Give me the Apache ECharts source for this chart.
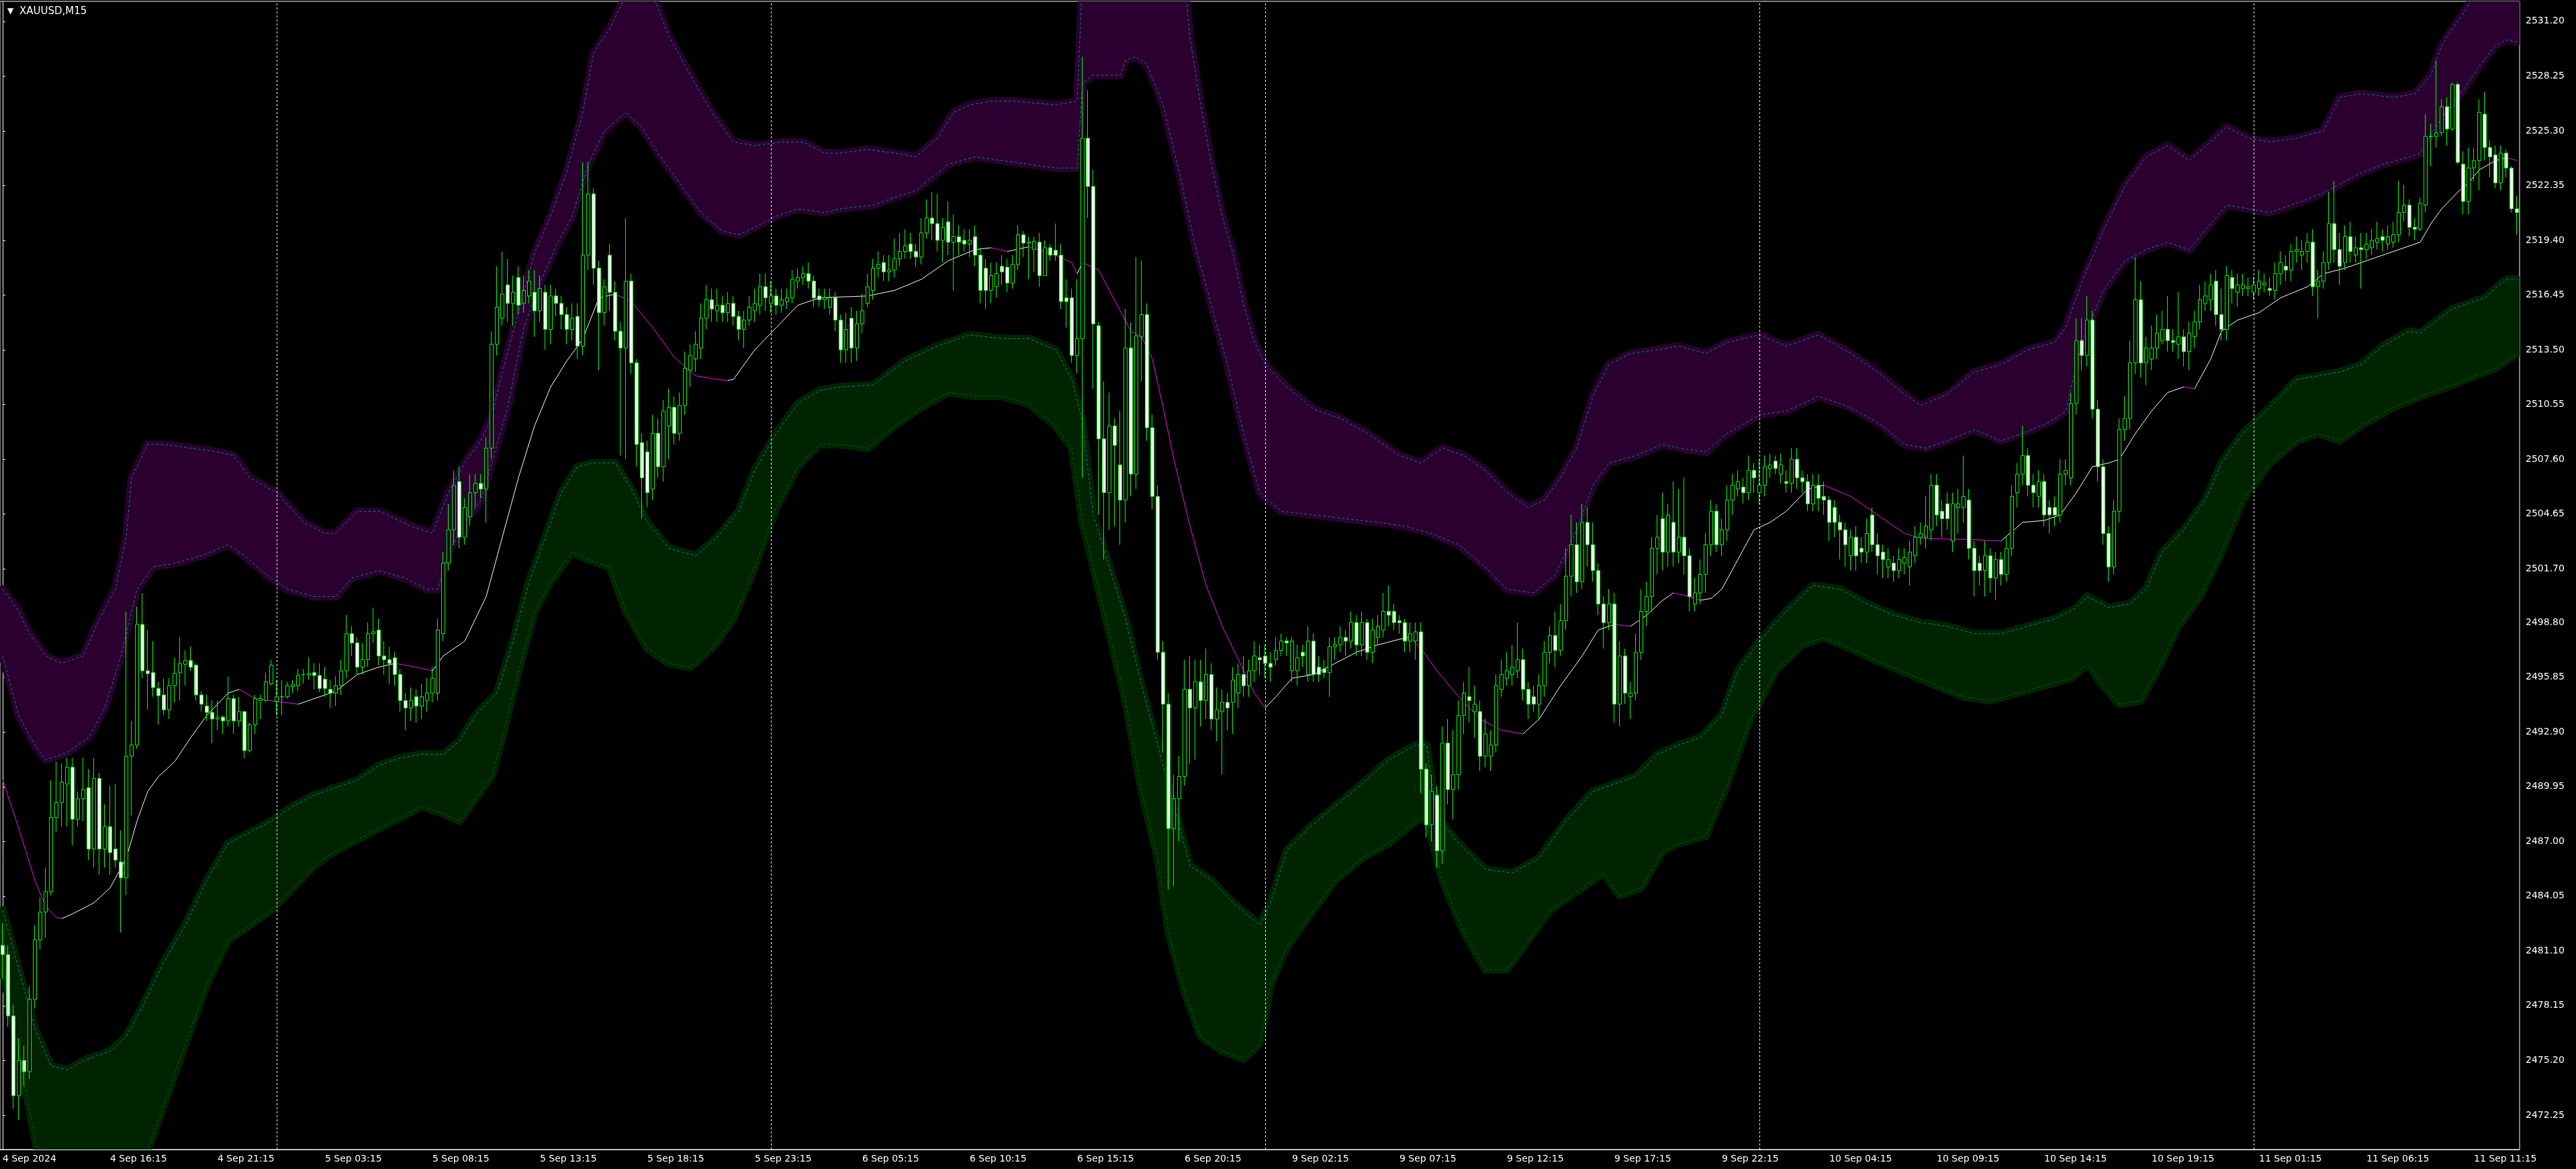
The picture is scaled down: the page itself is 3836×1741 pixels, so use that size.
<!DOCTYPE html>
<html>
<head>
<meta charset="utf-8">
<title>XAUUSD,M15</title>
<script src="https://cdn.jsdelivr.net/npm/echarts@6/dist/echarts.min.js"></script>
<style>
  html, body { margin: 0; padding: 0; background: #000; }
  #chart { width: 3836px; height: 1741px; }
</style>
</head>
<body>
<div id="chart"></div>
<script>
// time labels, one every 20 bars (M15)
const tickLabels = [
  '4 Sep 2024', '4 Sep 16:15', '4 Sep 21:15', '5 Sep 03:15', '5 Sep 08:15', '5 Sep 13:15',
  '5 Sep 18:15', '5 Sep 23:15', '6 Sep 05:15', '6 Sep 10:15', '6 Sep 15:15', '6 Sep 20:15',
  '9 Sep 02:15', '9 Sep 07:15', '9 Sep 12:15', '9 Sep 17:15', '9 Sep 22:15', '10 Sep 04:15',
  '10 Sep 09:15', '10 Sep 14:15', '10 Sep 19:15', '11 Sep 01:15', '11 Sep 06:15', '11 Sep 11:15'
];
// bar index where a new day starts
const daySplits = [51, 143, 235, 327, 419];
const priceTicks = [
  2472.25, 2475.20, 2478.15, 2481.10, 2484.05, 2487.00, 2489.95, 2492.90, 2495.85, 2498.80,
  2501.70, 2504.65, 2507.60, 2510.55, 2513.50, 2516.45, 2519.40, 2522.35, 2525.30, 2528.25, 2531.20
];

// [open, close, low, high]
const candles = [
  [2481.4,2480.9,2479.6,2482.6],[2480.9,2477.6,2477.0,2481.4],[2477.6,2473.3,2472.6,2478.2],[2473.3,2475.2,2472.0,2476.4],
  [2475.2,2474.6,2473.8,2476.0],[2474.6,2478.5,2474.2,2479.2],[2478.5,2481.7,2478.0,2482.5],[2481.7,2483.2,2481.2,2484.0],
  [2483.2,2484.3,2481.8,2485.6],[2484.3,2488.3,2484.1,2490.3],[2488.3,2489.1,2487.5,2491.3],[2489.1,2490.2,2487.8,2491.2],
  [2490.1,2491.0,2487.8,2491.5],[2491.0,2488.2,2486.8,2491.5],[2488.2,2489.3,2487.8,2489.7],[2489.3,2489.8,2488.1,2491.5],
  [2489.9,2486.6,2486.0,2490.9],[2486.6,2490.4,2485.6,2491.5],[2490.4,2486.6,2485.2,2490.7],[2486.6,2487.8,2485.6,2489.0],
  [2487.8,2486.4,2485.2,2490.0],[2486.6,2486.0,2485.6,2490.1],[2485.9,2485.05,2482.1,2487.6],[2485.05,2491.6,2484.1,2499.4],
  [2491.6,2492.2,2488.4,2493.5],[2492.2,2498.7,2492.0,2499.65],[2498.7,2496.2,2495.8,2500.4],[2496.2,2496.05,2494.1,2498.4],
  [2496.1,2495.3,2494.8,2497.8],[2495.25,2494.86,2493.3,2495.6],[2494.9,2494.1,2493.8,2495.8],[2494.1,2495.4,2493.6,2495.8],
  [2495.4,2496.07,2494.5,2496.9],[2496.1,2496.6,2494.6,2498.0],[2496.55,2496.75,2495.4,2497.3],[2496.75,2496.4,2496.2,2497.5],
  [2496.5,2494.9,2494.6,2496.6],[2494.9,2494.4,2494.0,2495.1],[2494.3,2493.96,2493.5,2494.9],[2493.96,2493.6,2492.3,2494.6],
  [2493.6,2493.7,2493.0,2494.6],[2493.7,2493.5,2492.8,2493.8],[2493.5,2494.7,2493.2,2495.9],[2494.7,2493.5,2492.8,2494.9],
  [2493.5,2494.0,2493.2,2494.8],[2494.0,2491.9,2491.5,2494.0],[2491.9,2493.3,2491.8,2493.4],[2493.3,2494.7,2492.8,2494.9],
  [2494.6,2494.7,2493.6,2494.9],[2494.6,2495.6,2494.5,2496.1],[2495.5,2496.5,2495.4,2496.8],[2494.55,2494.8,2493.8,2495.7],
  [2494.8,2494.8,2493.8,2495.7],[2494.8,2495.4,2494.7,2495.6],[2495.35,2495.45,2495.0,2495.7],[2495.4,2495.96,2495.1,2496.3],
  [2496.0,2496.0,2495.5,2496.3],[2495.98,2496.05,2495.7,2496.9],[2496.1,2495.95,2495.2,2496.6],[2495.95,2495.25,2495.05,2496.6],
  [2495.75,2495.25,2494.8,2496.4],[2495.2,2495.0,2494.2,2495.7],[2495.0,2495.4,2494.3,2495.9],[2495.4,2496.2,2494.9,2496.8],
  [2496.2,2498.2,2495.8,2499.2],[2498.2,2497.7,2497.0,2498.6],[2497.7,2496.4,2496.0,2498.0],[2496.4,2496.8,2496.0,2497.7],
  [2496.8,2498.2,2496.4,2498.8],[2498.2,2498.3,2497.7,2499.6],[2498.4,2497.0,2496.5,2499.0],[2497.0,2496.8,2496.0,2497.8],
  [2496.8,2496.6,2495.5,2497.5],[2496.9,2496.0,2495.4,2497.2],[2496.0,2494.6,2494.0,2496.3],[2494.6,2494.2,2493.0,2495.0],
  [2494.2,2494.6,2493.5,2495.3],[2494.8,2494.3,2493.4,2495.2],[2494.3,2494.8,2493.6,2495.5],[2494.6,2495.0,2494.0,2495.8],
  [2495.0,2495.8,2494.5,2496.4],[2495.0,2498.4,2494.6,2499.0],[2498.2,2502.0,2497.8,2502.6],[2502.0,2503.8,2501.6,2505.2],
  [2503.8,2506.2,2503.0,2507.0],[2506.4,2503.4,2502.8,2507.2],[2503.4,2505.0,2503.0,2505.5],[2504.5,2505.8,2504.0,2506.8],
  [2505.8,2506.3,2505.0,2506.8],[2506.3,2506.0,2505.5,2506.8],[2506.0,2508.2,2504.2,2508.8],[2508.2,2513.8,2507.6,2514.5],
  [2513.8,2515.8,2513.2,2518.0],[2515.2,2516.5,2514.8,2518.8],[2517.0,2516.0,2515.0,2518.4],[2516.0,2516.6,2514.8,2517.5],
  [2517.4,2515.9,2515.4,2518.0],[2516.0,2516.7,2515.5,2517.5],[2516.4,2517.2,2516.0,2517.8],[2516.6,2515.6,2514.2,2517.8],
  [2515.6,2516.8,2515.0,2517.5],[2516.6,2514.6,2513.5,2517.0],[2514.6,2516.4,2513.8,2517.0],[2516.4,2516.0,2515.3,2516.8],
  [2516.0,2515.4,2514.6,2516.4],[2515.4,2514.6,2513.8,2515.8],[2514.6,2515.2,2514.0,2516.0],[2515.3,2513.7,2513.0,2516.0],
  [2513.7,2518.6,2513.2,2523.6],[2518.6,2521.9,2517.8,2523.6],[2521.9,2517.9,2517.0,2522.2],[2517.9,2515.5,2512.4,2518.3],
  [2515.5,2516.9,2514.8,2517.3],[2518.6,2516.6,2515.6,2519.2],[2516.6,2514.5,2514.0,2517.2],[2514.5,2513.6,2507.8,2515.0],
  [2513.6,2517.2,2507.6,2520.6],[2517.2,2512.8,2512.2,2517.6],[2512.8,2508.4,2507.2,2513.0],[2508.5,2506.6,2504.4,2509.0],
  [2508.0,2505.8,2505.0,2508.6],[2506.0,2509.0,2505.4,2510.0],[2509.0,2507.2,2506.6,2509.8],[2507.2,2510.2,2506.4,2510.8],
  [2509.4,2510.4,2507.6,2511.4],[2510.4,2509.0,2508.4,2511.0],[2509.0,2510.5,2508.6,2511.2],[2510.5,2512.5,2510.0,2513.4],
  [2512.4,2513.2,2511.5,2513.8],[2513.0,2513.8,2512.3,2514.5],[2513.6,2515.2,2513.0,2516.0],[2515.2,2516.2,2514.6,2517.0],
  [2516.2,2515.7,2515.0,2516.8],[2515.6,2515.9,2515.0,2516.8],[2515.9,2515.5,2515.0,2516.4],[2515.5,2516.0,2515.0,2516.6],
  [2516.0,2515.3,2514.8,2516.4],[2515.3,2514.6,2514.0,2515.6],[2514.6,2515.1,2513.6,2515.6],[2515.1,2515.8,2514.8,2516.4],
  [2515.6,2516.0,2515.0,2516.8],[2515.9,2516.9,2515.4,2517.6],[2516.9,2516.3,2515.6,2517.6],[2516.0,2516.4,2515.5,2517.2],
  [2516.4,2515.9,2515.4,2516.8],[2515.9,2516.2,2515.5,2516.8],[2516.1,2516.3,2515.7,2516.8],[2516.3,2517.3,2516.0,2517.8],
  [2517.2,2517.4,2516.8,2517.9],[2517.4,2517.6,2517.0,2518.0],[2517.6,2517.2,2516.8,2518.2],[2517.2,2516.3,2515.8,2517.5],
  [2516.4,2516.2,2515.8,2516.8],[2516.2,2516.3,2515.7,2516.8],[2515.8,2516.3,2515.4,2516.8],[2516.3,2515.1,2514.5,2516.6],
  [2515.1,2513.5,2512.8,2515.4],[2513.5,2514.6,2512.8,2515.5],[2515.2,2513.6,2512.8,2515.8],[2513.6,2514.9,2512.9,2515.6],
  [2514.9,2515.6,2514.4,2516.5],[2516.0,2516.9,2515.8,2517.6],[2516.7,2517.9,2516.2,2518.4],[2517.9,2518.1,2517.4,2518.8],
  [2518.2,2517.7,2517.2,2518.6],[2517.7,2517.8,2517.2,2518.6],[2517.8,2518.4,2517.4,2519.5],[2518.4,2518.8,2518.0,2519.8],
  [2518.8,2519.1,2518.4,2520.0],[2519.2,2518.8,2518.4,2519.8],[2518.8,2518.5,2518.0,2519.2],[2518.5,2519.8,2518.1,2520.6],
  [2519.8,2520.6,2519.5,2521.6],[2520.6,2520.3,2519.4,2522.0],[2520.3,2519.4,2518.8,2521.9],[2519.4,2520.1,2518.2,2520.6],
  [2520.4,2519.3,2518.6,2521.5],[2519.3,2519.6,2516.7,2520.8],[2519.6,2519.3,2518.6,2520.2],[2519.4,2519.2,2518.8,2520.0],
  [2519.2,2519.4,2518.5,2520.0],[2519.6,2518.6,2518.0,2520.2],[2518.6,2516.7,2516.0,2519.0],[2517.9,2516.7,2515.7,2518.4],
  [2516.7,2517.5,2516.0,2518.2],[2516.9,2517.6,2516.3,2518.2],[2518.0,2517.7,2517.0,2518.6],[2517.95,2517.1,2516.6,2518.4],
  [2517.1,2518.1,2516.8,2518.6],[2518.1,2519.7,2517.8,2520.2],[2519.7,2519.25,2518.5,2519.9],[2519.25,2519.3,2517.3,2519.6],
  [2518.9,2519.35,2517.7,2519.6],[2519.3,2517.5,2516.9,2519.8],[2517.5,2519.0,2517.5,2519.4],[2519.0,2518.6,2518.3,2519.2],
  [2518.86,2518.6,2518.3,2520.3],[2518.6,2516.1,2515.7,2519.2],[2516.3,2516.1,2514.7,2517.3],[2516.3,2513.2,2512.8,2516.8],
  [2513.2,2514.1,2512.25,2517.3],[2514.1,2524.9,2506.6,2529.3],[2524.9,2522.3,2520.6,2527.5],[2522.3,2514.9,2511.4,2523.2],
  [2514.8,2508.7,2504.6,2515.0],[2508.7,2505.8,2502.2,2511.8],[2505.8,2509.4,2503.8,2511.2],[2509.4,2508.35,2504.0,2509.8],
  [2507.3,2505.4,2503.0,2510.2],[2505.4,2513.6,2504.2,2515.7],[2513.6,2506.8,2505.6,2514.97],[2506.8,2514.25,2506.0,2518.5],
  [2514.2,2515.4,2511.8,2518.3],[2515.4,2509.3,2508.6,2516.0],[2509.3,2505.6,2504.9,2510.0],[2505.6,2497.2,2496.8,2506.2],
  [2497.2,2494.4,2491.8,2497.8],[2494.4,2487.7,2484.4,2495.0],[2487.7,2489.3,2484.6,2490.6],[2489.3,2490.5,2487.0,2491.6],
  [2490.5,2495.2,2490.0,2496.8],[2495.2,2494.2,2491.2,2497.0],[2494.2,2495.6,2491.4,2496.8],[2495.6,2494.6,2493.2,2496.8],
  [2494.6,2496.0,2493.6,2497.4],[2496.0,2493.6,2493.0,2496.6],[2493.6,2494.1,2492.4,2495.3],[2494.0,2494.5,2490.6,2495.2],
  [2494.5,2494.2,2493.0,2495.0],[2494.5,2495.7,2492.8,2496.4],[2495.0,2496.0,2494.2,2496.6],[2496.0,2495.4,2494.8,2497.0],
  [2495.4,2496.2,2494.8,2496.8],[2496.2,2497.0,2495.6,2497.8],[2496.9,2496.8,2496.0,2497.6],[2497.0,2496.6,2495.8,2497.6],
  [2496.6,2496.4,2495.6,2497.2],[2496.8,2497.3,2496.5,2498.0],[2497.3,2497.8,2497.0,2498.2],[2497.8,2497.7,2497.0,2498.0],
  [2496.2,2497.8,2495.6,2498.0],[2496.2,2496.9,2495.4,2497.6],[2497.2,2497.0,2496.4,2497.6],[2496.0,2497.8,2495.6,2498.6],
  [2497.8,2496.0,2495.6,2498.2],[2496.4,2496.0,2495.6,2497.0],[2496.3,2496.1,2495.8,2496.8],[2496.1,2497.5,2494.8,2498.0],
  [2497.5,2497.6,2496.8,2498.0],[2497.6,2498.0,2497.2,2498.6],[2498.0,2497.8,2497.0,2498.4],[2497.8,2498.8,2497.4,2499.4],
  [2498.8,2497.6,2497.0,2499.2],[2497.6,2498.8,2497.0,2499.4],[2498.8,2497.2,2496.8,2499.0],[2497.2,2498.4,2496.6,2499.0],
  [2498.0,2498.6,2497.6,2499.2],[2498.4,2499.4,2498.0,2500.4],[2499.4,2499.2,2498.6,2500.8],[2499.4,2498.8,2498.4,2499.8],
  [2498.9,2498.8,2498.2,2499.2],[2498.8,2497.8,2497.2,2499.0],[2497.8,2498.2,2497.2,2498.8],[2497.8,2498.3,2496.8,2498.8],
  [2498.3,2490.9,2489.6,2498.8],[2490.9,2487.9,2487.2,2491.2],[2487.9,2489.7,2487.0,2490.6],[2489.5,2486.5,2485.6,2490.0],
  [2486.5,2492.3,2485.8,2493.2],[2492.3,2489.8,2489.0,2493.6],[2489.8,2490.6,2488.2,2493.0],[2490.6,2493.8,2489.8,2494.6],
  [2493.8,2495.0,2492.8,2495.6],[2494.8,2494.6,2493.4,2496.4],[2494.0,2494.4,2492.6,2495.4],[2494.0,2491.6,2490.8,2494.6],
  [2491.6,2492.8,2491.0,2493.6],[2491.6,2492.2,2490.8,2493.0],[2492.2,2495.4,2491.8,2496.0],[2495.2,2496.0,2494.8,2496.8],
  [2495.8,2496.2,2495.4,2497.2],[2496.0,2496.4,2495.4,2497.6],[2496.2,2496.8,2495.8,2498.8],[2496.8,2495.2,2494.6,2497.4],
  [2495.2,2494.4,2493.6,2495.6],[2494.8,2494.4,2494.0,2495.4],[2494.4,2495.4,2493.6,2496.0],[2495.4,2497.2,2494.8,2497.8],
  [2497.2,2498.1,2496.6,2498.6],[2498.1,2497.3,2496.4,2499.4],[2497.3,2498.9,2497.0,2499.8],[2498.9,2501.3,2498.4,2502.8],
  [2501.3,2503.0,2500.2,2504.6],[2503.0,2501.0,2500.4,2504.2],[2501.0,2504.2,2500.6,2505.2],[2504.2,2503.0,2501.8,2505.0],
  [2503.0,2501.6,2501.0,2504.2],[2501.6,2499.8,2499.2,2502.0],[2499.8,2498.8,2497.4,2500.2],[2498.8,2499.8,2498.4,2500.6],
  [2499.8,2494.4,2493.4,2500.4],[2494.4,2497.0,2493.2,2497.8],[2497.0,2495.0,2494.4,2497.4],[2494.8,2495.0,2493.6,2495.6],
  [2495.0,2497.2,2494.6,2498.2],[2497.2,2499.4,2496.8,2500.6],[2499.4,2500.2,2498.6,2501.0],[2500.2,2502.8,2499.4,2503.4],
  [2502.8,2503.4,2501.4,2504.6],[2504.4,2502.6,2501.6,2505.8],[2502.6,2504.6,2501.8,2505.2],[2504.2,2502.6,2501.8,2506.4],
  [2502.6,2503.4,2502.0,2506.0],[2503.4,2502.4,2501.4,2506.6],[2502.4,2500.2,2499.4,2502.8],[2499.8,2500.4,2499.4,2501.2],
  [2500.4,2501.4,2499.8,2502.2],[2501.4,2503.0,2500.4,2503.6],[2503.0,2504.8,2502.4,2505.4],[2504.8,2503.0,2502.6,2505.2],
  [2503.0,2503.8,2502.4,2504.4],[2503.8,2505.4,2503.2,2506.2],[2505.4,2506.2,2504.6,2506.8],[2506.0,2506.4,2505.6,2507.0],
  [2506.1,2505.8,2505.2,2506.6],[2505.8,2507.0,2505.4,2507.8],[2507.0,2506.6,2505.8,2507.4],[2505.8,2506.2,2505.2,2507.6],
  [2506.2,2507.2,2505.6,2507.8],[2507.1,2507.3,2506.6,2507.9],[2507.5,2507.1,2506.8,2507.8],[2506.8,2507.3,2506.3,2507.9],
  [2506.4,2506.3,2505.8,2507.0],[2506.3,2507.6,2505.8,2508.2],[2507.6,2506.6,2506.0,2508.2],[2506.6,2506.4,2505.8,2507.0],
  [2506.4,2505.2,2504.8,2506.8],[2505.2,2506.2,2504.8,2506.8],[2506.2,2505.5,2504.8,2506.8],[2505.6,2505.4,2504.6,2506.4],
  [2505.4,2504.2,2503.2,2505.6],[2505.0,2504.2,2503.4,2505.4],[2504.2,2503.8,2502.2,2504.6],[2503.8,2503.0,2501.8,2504.2],
  [2502.4,2503.4,2501.6,2503.8],[2503.4,2502.4,2501.6,2504.0],[2502.8,2502.6,2502.0,2503.4],[2502.6,2503.6,2502.0,2504.4],
  [2504.6,2503.0,2502.6,2505.0],[2503.0,2502.4,2501.4,2503.6],[2502.6,2502.2,2501.2,2503.0],[2501.8,2502.2,2501.2,2502.8],
  [2502.0,2501.6,2501.0,2502.4],[2501.6,2502.2,2501.2,2502.8],[2502.0,2502.3,2501.4,2502.8],[2501.8,2502.6,2500.8,2503.2],
  [2502.4,2503.4,2502.0,2504.0],[2503.4,2503.6,2503.0,2504.2],[2503.4,2504.0,2502.8,2505.6],[2503.8,2506.2,2503.2,2506.8],
  [2506.2,2504.6,2504.0,2506.8],[2504.8,2504.4,2503.4,2505.4],[2505.2,2504.4,2503.8,2505.8],[2503.2,2505.2,2502.6,2505.8],
  [2505.0,2505.2,2503.6,2506.0],[2505.0,2505.6,2504.2,2507.8],[2505.4,2502.8,2502.2,2506.0],[2502.8,2501.6,2500.2,2503.2],
  [2502.0,2501.6,2500.8,2502.4],[2501.6,2502.4,2500.2,2503.2],[2502.4,2501.2,2500.4,2502.8],[2501.2,2502.2,2500.0,2502.6],
  [2502.2,2501.4,2500.8,2502.6],[2501.4,2502.8,2501.0,2503.4],[2502.8,2505.6,2502.4,2506.2],[2505.8,2506.8,2505.0,2507.4],
  [2506.8,2507.8,2506.2,2509.4],[2507.8,2506.2,2505.6,2508.2],[2506.2,2505.8,2505.0,2506.8],[2505.6,2506.4,2505.0,2507.0],
  [2506.4,2504.6,2504.0,2506.8],[2505.0,2504.6,2503.6,2505.4],[2505.0,2504.6,2504.0,2505.6],[2504.6,2506.8,2504.2,2507.6],
  [2506.8,2507.0,2506.2,2507.6],[2506.6,2510.6,2506.2,2511.2],[2510.6,2514.0,2510.0,2515.2],[2514.0,2513.2,2512.4,2515.2],
  [2513.2,2515.1,2512.6,2516.4],[2515.1,2510.3,2509.8,2515.6],[2510.3,2507.2,2506.4,2510.8],[2507.2,2503.6,2503.0,2507.6],
  [2503.6,2501.8,2501.0,2504.0],[2501.8,2504.8,2501.4,2505.4],[2504.8,2509.2,2504.2,2509.8],[2509.2,2509.8,2508.6,2511.0],
  [2509.8,2512.8,2509.2,2514.0],[2512.8,2516.2,2512.2,2518.5],[2516.2,2512.8,2512.0,2517.2],[2512.8,2513.6,2511.6,2514.2],
  [2513.0,2513.6,2512.4,2514.8],[2513.6,2514.4,2513.0,2515.4],[2514.0,2514.6,2513.8,2515.6],[2514.6,2514.0,2513.4,2516.4],
  [2514.0,2513.9,2513.4,2514.6],[2513.8,2514.2,2513.0,2516.6],[2514.2,2513.4,2512.6,2514.6],[2513.4,2514.4,2512.4,2515.0],
  [2514.2,2515.0,2513.6,2515.6],[2515.0,2516.2,2514.6,2517.0],[2516.0,2516.4,2515.6,2517.2],[2516.2,2517.0,2515.6,2517.6],
  [2517.2,2515.4,2514.8,2517.8],[2515.4,2514.6,2514.0,2516.8],[2514.6,2517.5,2514.0,2518.0],[2517.4,2516.8,2516.0,2517.8],
  [2516.6,2517.0,2515.8,2517.6],[2516.8,2517.0,2516.4,2517.6],[2516.8,2516.9,2516.4,2517.4],[2516.6,2517.0,2516.2,2517.4],
  [2516.8,2517.2,2516.4,2517.8],[2517.0,2517.1,2516.6,2517.6],[2516.8,2516.7,2516.4,2517.4],[2516.7,2517.6,2516.2,2518.2],
  [2517.6,2518.2,2517.0,2518.8],[2518.0,2517.8,2517.2,2518.6],[2517.8,2518.8,2517.2,2519.2],[2518.8,2518.9,2518.2,2519.6],
  [2518.6,2518.8,2517.8,2519.4],[2518.8,2519.3,2518.2,2519.8],[2519.3,2516.9,2516.4,2520.0],[2516.9,2517.2,2515.2,2517.8],
  [2517.2,2518.2,2516.8,2518.8],[2518.2,2520.3,2517.8,2522.0],[2520.3,2518.9,2518.2,2522.6],[2518.9,2518.0,2517.0,2519.8],
  [2518.2,2519.6,2517.8,2520.2],[2519.6,2518.8,2518.2,2520.4],[2518.6,2519.0,2518.2,2519.6],[2519.0,2518.9,2516.8,2519.8],
  [2518.9,2519.2,2518.4,2519.8],[2519.0,2519.4,2518.6,2520.0],[2519.3,2519.5,2518.9,2520.4],[2519.6,2519.4,2518.8,2520.0],
  [2519.2,2519.6,2518.9,2520.2],[2519.3,2519.7,2519.0,2520.4],[2519.7,2520.9,2519.3,2522.6],[2520.9,2521.3,2520.4,2522.4],
  [2521.3,2520.1,2519.6,2521.6],[2520.1,2520.0,2519.4,2520.6],[2520.0,2521.4,2519.9,2521.7],[2521.3,2525.0,2520.9,2526.2],
  [2525.0,2525.0,2523.4,2525.7],[2525.0,2525.2,2524.4,2529.1],[2525.2,2526.6,2525.0,2527.0],[2526.6,2525.4,2524.5,2527.1],
  [2525.4,2527.8,2525.3,2527.9],[2527.8,2523.6,2523.5,2527.9],[2523.5,2521.5,2520.8,2524.2],[2521.5,2523.3,2520.8,2524.4],
  [2523.3,2523.7,2522.6,2524.4],[2523.7,2526.3,2522.1,2527.0],[2526.2,2524.4,2523.7,2527.4],[2524.4,2523.9,2522.8,2524.8],
  [2524.0,2522.5,2522.2,2524.5],[2522.5,2524.1,2522.1,2524.5],[2524.1,2523.3,2522.8,2524.3],[2523.3,2521.1,2520.9,2523.4],
  [2521.1,2520.9,2519.7,2521.8]
];

// moving average [barIndex, price]
const maLine = [
  [0,2490.3],[3,2487.7],[6,2484.9],[8,2483.5],[10,2482.9],[11,2482.85],[13,2483.1],[17,2483.7],[20,2484.5],[23,2486.1],
  [25,2488.1],[27,2489.7],[29,2490.5],[32,2491.3],[35,2492.6],[38,2493.8],[42,2495.0],[44,2495.2],[47,2494.7],[51,2494.55],
  [55,2494.4],[58,2494.7],[62,2495.1],[66,2496.0],[70,2496.4],[73,2496.6],[77,2496.4],[80,2496.2],[82,2497.0],[86,2497.8],
  [90,2500.2],[93,2503.4],[96,2506.6],[99,2509.4],[102,2511.5],[105,2512.9],[108,2514.1],[111,2516.3],[114,2516.5],[117,2516.1],
  [121,2514.7],[125,2513.1],[129,2512.1],[133,2511.9],[135,2511.85],[136,2511.9],[140,2513.5],[144,2514.7],[148,2515.9],[152,2516.3],
  [156,2516.35],[161,2516.4],[166,2516.7],[171,2517.3],[176,2518.3],[181,2518.9],[184,2519.0],[187,2518.8],[191,2519.05],[196,2518.6],
  [199,2518.2],[200,2517.6],[201,2518.2],[204,2517.8],[208,2515.6],[210,2514.5],[212,2514.2],[214,2513.0],[216,2510.4],[218,2507.6],
  [221,2504.0],[224,2500.8],[227,2498.6],[230,2496.8],[233,2495.0],[235,2494.2],[237,2494.8],[240,2495.8],[244,2496.0],[248,2496.6],
  [252,2497.2],[256,2497.6],[260,2497.9],[262,2498.0],[264,2497.4],[267,2496.2],[271,2494.8],[275,2493.6],[279,2493.0],[283,2492.8],
  [286,2493.6],[290,2495.4],[294,2497.0],[297,2498.4],[300,2498.7],[303,2498.6],[306,2499.2],[309,2500.0],[311,2500.4],[314,2500.2],
  [316,2500.0],[318,2500.1],[320,2500.6],[323,2502.2],[326,2503.8],[329,2504.2],[332,2504.8],[336,2506.0],[339,2506.2],[344,2505.6],
  [349,2504.6],[354,2503.6],[357,2503.35],[362,2503.3],[366,2503.28],[372,2503.2],[376,2504.2],[380,2504.3],[383,2504.6],[386,2505.8],
  [389,2507.2],[392,2507.4],[394,2507.6],[397,2509.0],[400,2510.2],[403,2511.2],[406,2511.5],[408,2511.4],[411,2513.0],[413,2514.5],
  [416,2515.1],[420,2515.5],[424,2516.3],[429,2516.9],[432,2517.6],[436,2517.9],[440,2518.3],[444,2518.7],[448,2519.1],[450,2519.3],
  [452,2520.3],[454,2521.1],[457,2522.0],[459,2522.5],[461,2523.2],[464,2523.7],[466,2523.85],[468,2523.7]
];

// upper (purple) band edges
const upperTop = [
  [0,2500.6],[3,2499.4],[5,2498.2],[8,2497.0],[11,2496.6],[15,2497.0],[18,2499.0],[21,2500.6],[23,2503.4],[24,2506.6],
  [27,2508.4],[30,2508.4],[35,2508.2],[40,2508.0],[43,2507.8],[46,2506.6],[51,2505.8],[56,2504.2],[60,2503.6],[62,2503.6],
  [66,2504.8],[70,2504.8],[76,2504.0],[80,2503.6],[83,2505.8],[86,2507.4],[89,2508.6],[91,2509.8],[93,2512.3],[96,2515.5],
  [99,2518.7],[102,2520.7],[105,2523.1],[108,2526.3],[110,2529.5],[113,2530.8],[116,2532.6],[121,2532.6],[124,2530.4],[128,2528.3],
  [132,2526.3],[136,2524.7],[140,2524.5],[145,2524.7],[149,2524.7],[153,2524.1],[156,2524.1],[161,2524.3],[166,2524.1],[170,2523.9],
  [174,2524.9],[177,2526.3],[180,2526.7],[184,2526.9],[188,2526.9],[192,2526.8],[196,2526.7],[200,2526.9],[201,2533.5],[220,2533.5],
  [221,2530.3],[223,2526.7],[225,2523.5],[227,2520.7],[229,2518.7],[231,2515.9],[233,2513.9],[235,2512.7],[239,2511.5],[244,2510.3],
  [249,2509.8],[254,2509.0],[260,2507.8],[264,2507.4],[268,2508.2],[272,2507.8],[276,2507.0],[280,2505.8],[284,2505.0],[287,2505.4],
  [290,2506.6],[293,2508.2],[296,2511.0],[299,2512.7],[303,2513.3],[308,2513.5],[312,2513.7],[317,2513.3],[321,2513.9],[327,2514.3],
  [332,2513.7],[338,2514.3],[344,2513.3],[349,2512.3],[354,2511.1],[357,2510.5],[362,2511.1],[367,2512.3],[372,2512.7],[377,2513.5],
  [382,2513.9],[384,2514.7],[387,2517.1],[391,2519.9],[395,2522.3],[399,2523.9],[403,2524.5],[407,2523.7],[411,2524.7],[414,2525.5],
  [418,2524.9],[422,2524.7],[427,2524.9],[432,2525.3],[435,2527.1],[439,2527.3],[445,2527.1],[449,2527.3],[452,2528.3],[454,2529.9],
  [456,2530.8],[458,2531.6],[460,2532.6],[468,2533.5]
];
const upperBottom = [
  [0,2497.0],[3,2493.8],[6,2492.2],[8,2491.4],[12,2491.8],[16,2492.6],[19,2494.2],[22,2497.0],[25,2500.6],[28,2501.8],
  [32,2502.0],[37,2502.4],[42,2503.0],[45,2502.4],[49,2501.4],[53,2500.6],[58,2500.2],[62,2500.2],[65,2501.2],[70,2501.6],
  [75,2501.2],[79,2500.6],[81,2500.6],[83,2502.6],[86,2504.2],[89,2505.4],[91,2507.4],[94,2510.4],[97,2514.7],[100,2517.1],
  [103,2519.1],[106,2520.7],[109,2523.5],[112,2525.3],[116,2526.3],[119,2525.5],[122,2524.1],[126,2522.5],[130,2520.9],[134,2519.9],
  [137,2519.7],[140,2520.1],[144,2520.7],[148,2521.1],[153,2520.9],[156,2521.1],[162,2521.3],[170,2522.1],[176,2523.5],[181,2523.9],
  [186,2523.7],[191,2523.5],[196,2523.3],[200,2523.3],[201,2527.9],[203,2528.3],[208,2528.3],[209,2529.1],[211,2529.3],[213,2528.9],
  [216,2526.7],[219,2523.1],[222,2519.1],[225,2515.9],[228,2512.7],[231,2509.0],[234,2505.8],[238,2504.8],[244,2504.6],[250,2504.4],
  [256,2504.2],[261,2504.0],[266,2503.6],[271,2503.0],[276,2501.8],[280,2500.6],[285,2500.4],[289,2501.4],[293,2503.8],[296,2506.2],
  [299,2507.4],[304,2507.8],[309,2508.4],[312,2508.2],[317,2508.0],[321,2509.0],[327,2510.0],[332,2510.2],[338,2511.0],[344,2510.4],
  [350,2509.4],[354,2508.4],[358,2508.2],[362,2508.6],[367,2509.2],[372,2508.6],[376,2509.0],[381,2509.6],[384,2510.2],[387,2513.9],
  [391,2516.7],[395,2518.3],[399,2518.9],[403,2519.3],[407,2518.9],[411,2520.3],[414,2521.3],[418,2521.1],[422,2520.9],[428,2521.5],
  [433,2522.1],[438,2522.9],[443,2523.5],[448,2523.9],[450,2524.1],[452,2525.1],[455,2526.4],[458,2527.5],[461,2528.8],[464,2529.9],
  [466,2530.2],[468,2530.1]
];
// lower (green) band edges
const lowerTop = [
  [0,2483.3],[3,2480.1],[6,2476.9],[9,2474.9],[12,2474.7],[16,2475.3],[20,2475.7],[23,2476.5],[26,2478.1],[30,2480.5],
  [34,2482.5],[38,2484.9],[42,2486.9],[46,2487.5],[50,2488.1],[54,2488.9],[58,2489.5],[62,2489.9],[66,2490.3],[70,2491.1],
  [74,2491.5],[78,2491.7],[82,2491.7],[85,2492.4],[88,2493.8],[92,2495.0],[95,2497.8],[98,2501.0],[101,2503.4],[104,2505.8],
  [107,2507.2],[110,2507.4],[114,2507.4],[117,2506.0],[120,2504.2],[124,2502.8],[129,2502.4],[133,2503.4],[137,2504.8],[140,2507.0],
  [144,2509.0],[148,2510.6],[152,2511.3],[156,2511.5],[162,2511.6],[168,2512.9],[174,2513.7],[180,2514.3],[186,2514.1],[191,2514.1],
  [196,2513.5],[199,2511.9],[201,2509.6],[203,2504.6],[206,2501.8],[209,2499.0],[212,2495.4],[215,2492.2],[218,2488.9],[221,2485.7],
  [225,2484.9],[229,2483.7],[234,2482.5],[236,2483.7],[239,2486.5],[243,2487.7],[248,2488.9],[253,2490.1],[258,2491.4],[263,2492.2],
  [265,2492.2],[267,2488.3],[271,2486.9],[276,2485.5],[281,2485.3],[286,2486.1],[291,2488.1],[296,2489.7],[300,2490.1],[304,2490.5],
  [308,2491.7],[312,2492.2],[316,2492.6],[320,2493.8],[323,2496.2],[327,2497.8],[332,2499.4],[337,2500.8],[342,2500.6],[347,2499.8],
  [352,2499.2],[357,2498.8],[362,2498.6],[367,2498.2],[372,2498.2],[377,2498.6],[382,2499.0],[386,2499.6],[388,2500.2],[392,2499.6],
  [396,2499.8],[399,2500.6],[402,2502.6],[406,2503.8],[410,2505.4],[413,2507.4],[417,2509.0],[422,2510.4],[427,2511.9],[431,2512.1],
  [435,2512.3],[439,2512.7],[443,2513.7],[448,2514.5],[450,2514.4],[456,2515.7],[462,2516.3],[466,2517.3],[468,2517.3]
];
const lowerBottom = [
  [0,2480.1],[4,2474.0],[7,2469.5],[10,2467.5],[15,2466.5],[20,2466.8],[24,2468.0],[27,2470.4],[30,2472.8],[34,2476.1],
  [38,2479.3],[42,2481.7],[46,2482.5],[50,2483.3],[54,2484.5],[58,2485.7],[62,2486.5],[66,2487.1],[70,2487.7],[74,2488.3],
  [78,2488.9],[82,2488.5],[85,2488.1],[88,2489.3],[91,2490.5],[93,2492.6],[96,2496.2],[99,2499.4],[102,2501.0],[106,2502.6],
  [109,2502.2],[113,2501.8],[116,2499.4],[120,2497.4],[124,2496.6],[128,2496.4],[132,2497.4],[136,2499.0],[140,2501.8],[144,2505.0],
  [148,2507.2],[152,2508.4],[156,2508.4],[161,2508.2],[166,2509.4],[171,2510.4],[176,2511.2],[181,2511.0],[186,2511.0],[191,2510.6],
  [196,2509.4],[199,2508.2],[201,2504.2],[203,2501.8],[206,2498.2],[209,2494.6],[212,2489.7],[215,2486.1],[217,2482.1],[220,2478.9],
  [223,2476.5],[227,2475.7],[231,2475.3],[234,2476.1],[236,2479.3],[239,2481.3],[243,2482.9],[248,2484.9],[253,2486.1],[258,2486.9],
  [263,2488.1],[265,2488.3],[268,2484.9],[272,2482.1],[276,2480.1],[280,2480.1],[284,2481.7],[288,2483.3],[294,2484.5],[298,2485.3],
  [301,2484.1],[305,2484.5],[309,2486.5],[312,2486.9],[317,2487.3],[321,2490.1],[325,2493.4],[330,2496.2],[335,2497.6],[339,2498.0],
  [344,2497.4],[350,2496.6],[355,2496.0],[360,2495.4],[365,2494.8],[370,2494.6],[375,2495.0],[380,2495.4],[385,2495.8],[388,2496.6],
  [391,2495.4],[394,2494.4],[398,2494.6],[401,2496.2],[405,2498.6],[409,2500.2],[413,2502.6],[417,2505.4],[422,2507.4],[427,2508.6],
  [431,2509.0],[435,2508.6],[439,2509.4],[445,2510.4],[451,2511.1],[456,2511.6],[461,2512.2],[464,2512.5],[468,2513.3]
];

const N = candles.length;
const categories = candles.map((c, i) => (i % 20 === 0 ? tickLabels[i / 20] : ''));
const fontFamily = 'DejaVu Sans';

// colour the MA white while rising, magenta while falling
const maPieces = [];
for (let k = 1; k < maLine.length; k++) {
  const falling = maLine[k][1] < maLine[k - 1][1];
  const piece = { gte: maLine[k - 1][0], color: falling ? '#ff00ff' : '#ffffff' };
  if (k === maLine.length - 1) piece.lte = maLine[k][0]; else piece.lt = maLine[k][0];
  maPieces.push(piece);
}

function bandFill(top, bottom, fill, z) {
  return {
    type: 'custom', xAxisIndex: 1, z: z, clip: true, silent: true,
    data: [top[0]],
    renderItem: function (params, api) {
      const pts = top.map(p => api.coord(p)).concat(bottom.slice().reverse().map(p => api.coord(p)));
      return {
        type: 'polygon',
        shape: { points: pts },
        style: { fill: fill, stroke: fill, lineWidth: 12, lineJoin: 'round' }
      };
    }
  };
}

function bandEdge(data, color, z, extra) {
  return Object.assign({
    type: 'line', xAxisIndex: 1, data: data, z: z, silent: true,
    symbol: 'none', showSymbol: false,
    lineStyle: { color: color, width: 1, type: [4, 3] }
  }, extra || {});
}

const chart = echarts.init(document.getElementById('chart'));
const option = {
  backgroundColor: '#000',
  animation: false,
  title: {
    text: '{tri|▼} XAUUSD,M15',
    left: 6, top: 5,
    textStyle: {
      color: '#fff', fontSize: 15, fontWeight: 'normal', fontFamily: fontFamily,
      rich: { tri: { fontSize: 12, color: '#fff', fontFamily: fontFamily, padding: [0, 4, 2, 0] } }
    }
  },
  grid: { left: 0, right: 84, top: 2, bottom: 29, show: true, borderColor: '#fff', borderWidth: 1 },
  xAxis: [
    {
      type: 'category', data: categories, boundaryGap: true,
      axisLine: { lineStyle: { color: '#fff', width: 1 } },
      axisTick: { alignWithLabel: true, interval: 19, length: 4, lineStyle: { color: '#fff' } },
      axisLabel: { interval: 19, align: 'left', color: '#fff', fontSize: 14, fontFamily: fontFamily, margin: 7 },
      splitLine: { show: false }
    },
    { type: 'value', min: -0.5, max: N - 0.5, show: false }
  ],
  yAxis: {
    type: 'value', position: 'right', min: 2470.40, max: 2532.28,
    axisLine: { show: true, lineStyle: { color: '#fff' } },
    axisTick: { show: true, customValues: priceTicks, length: 4, lineStyle: { color: '#fff' } },
    axisLabel: {
      customValues: priceTicks, formatter: v => v.toFixed(2),
      color: '#fff', fontSize: 14, fontFamily: fontFamily, margin: 9
    },
    splitLine: { show: false }
  },
  visualMap: {
    type: 'piecewise', show: false, dimension: 0, seriesIndex: 7,
    pieces: maPieces
  },
  series: [
    bandFill(lowerTop, lowerBottom, '#002400', 1),
    bandEdge(lowerTop, '#008080', 2),
    bandEdge(lowerBottom, '#006400', 2, {
      markLine: {
        silent: true, symbol: 'none', label: { show: false },
        lineStyle: { color: '#ffffff', width: 1, type: [3, 3] },
        data: daySplits.map(i => ({ xAxis: i }))
      }
    }),
    bandFill(upperTop, upperBottom, '#2b0030', 3),
    bandEdge(upperTop, '#008080', 4),
    bandEdge(upperBottom, '#008080', 4),
    { type: 'line', data: [], xAxisIndex: 1 },
    {
      type: 'line', xAxisIndex: 1, data: maLine, z: 5, silent: true,
      symbol: 'none', showSymbol: false,
      lineStyle: { width: 1 }
    },
    {
      type: 'candlestick', xAxisIndex: 0, data: candles, z: 6, barWidth: 5,
      itemStyle: {
        color: '#000000', color0: '#ffffff',
        borderColor: '#00ff00', borderColor0: '#00ff00', borderColorDoji: '#00ff00', borderWidth: 1
      }
    }
  ]
};
chart.setOption(option);
</script>
</body>
</html>
